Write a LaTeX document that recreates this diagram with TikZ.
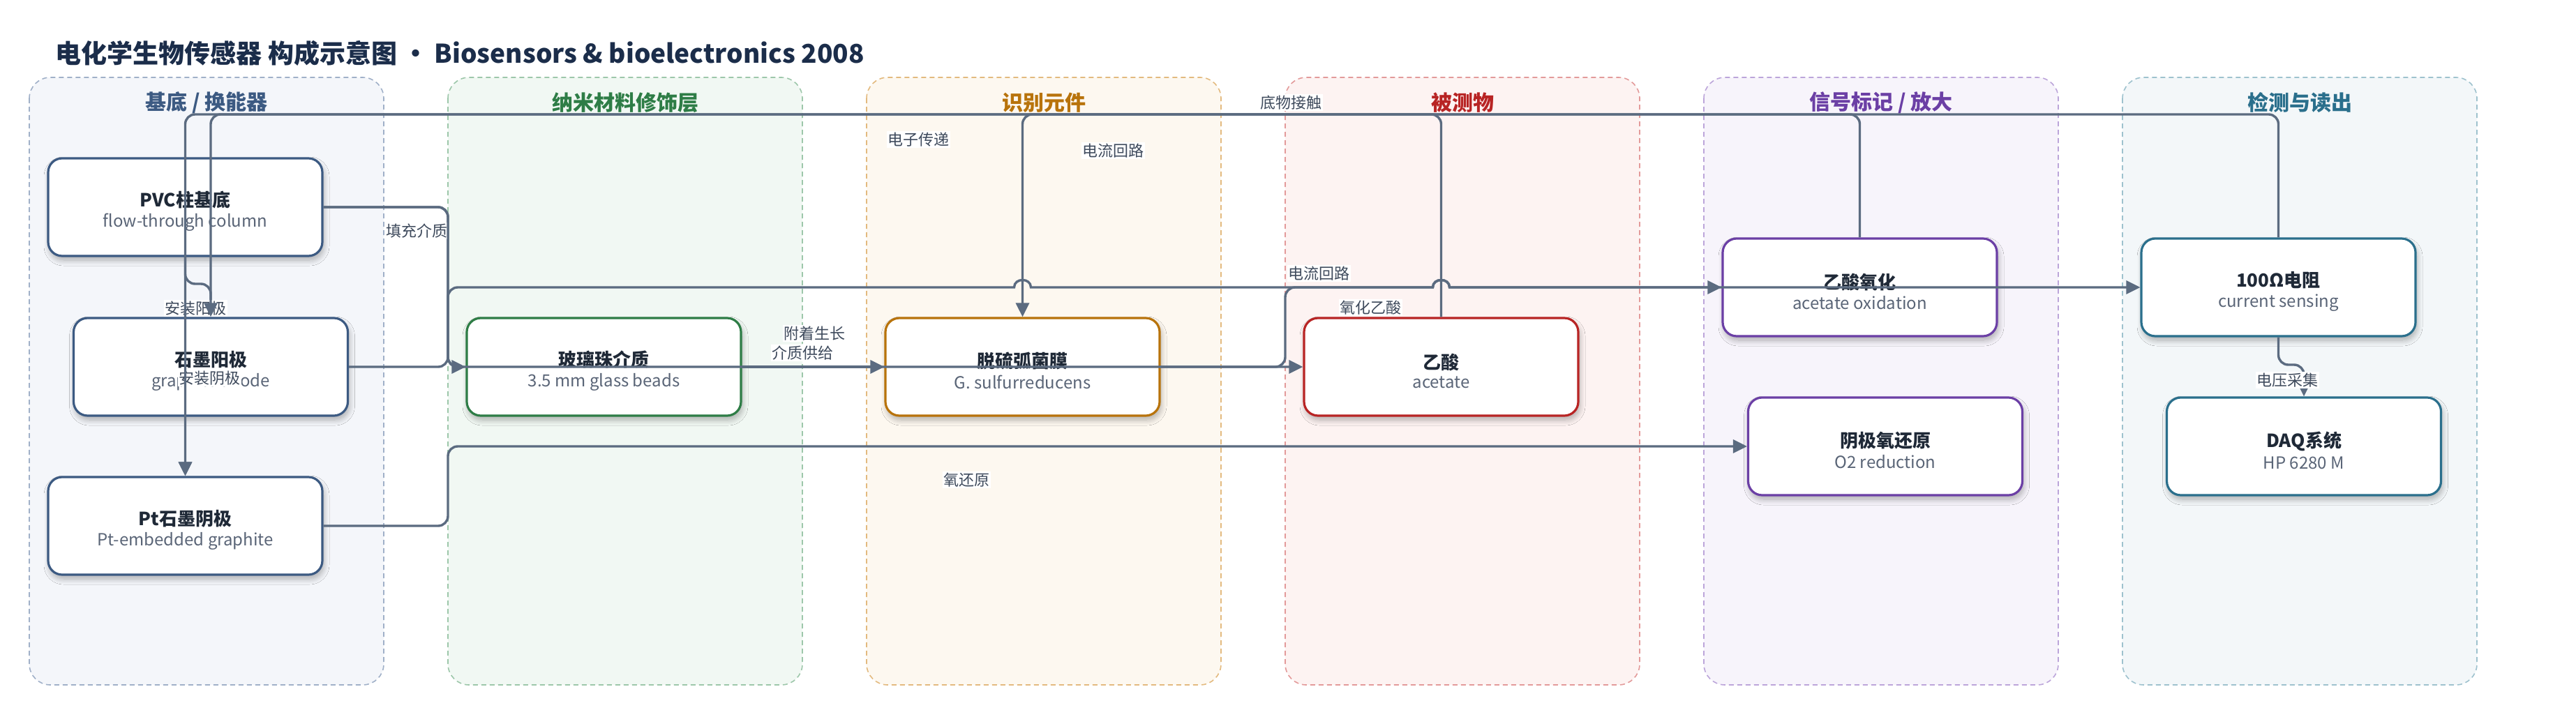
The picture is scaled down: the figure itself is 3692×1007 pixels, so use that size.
\documentclass[tikz,border=0pt]{standalone}
\usepackage{fontspec}
\setmainfont{Noto Sans CJK SC}
\usetikzlibrary{arrows.meta,shadows.blur}
\definecolor{linec}{HTML}{5B6B80}
\definecolor{lblc}{HTML}{3E4A5C}
\definecolor{subc}{HTML}{5A6577}
\definecolor{titc}{HTML}{1B2D4A}
\definecolor{ntxt}{HTML}{1F2937}
% lanes
\definecolor{fA}{HTML}{F4F6FA}\definecolor{bA}{HTML}{A0B0C8}\definecolor{cA}{HTML}{3C5A82}
\definecolor{fB}{HTML}{F1F8F3}\definecolor{bB}{HTML}{9DC7AA}\definecolor{cB}{HTML}{2E7D46}
\definecolor{fC}{HTML}{FDF8F0}\definecolor{bC}{HTML}{E3BA7F}\definecolor{cC}{HTML}{B8730B}
\definecolor{fD}{HTML}{FDF3F2}\definecolor{bD}{HTML}{E39A9A}\definecolor{cD}{HTML}{B82424}
\definecolor{fE}{HTML}{F7F4FB}\definecolor{bE}{HTML}{BCA5DA}\definecolor{cE}{HTML}{6B3FA5}
\definecolor{fF}{HTML}{F3F7F9}\definecolor{bF}{HTML}{9EC2CE}\definecolor{cF}{HTML}{2A6F8C}
\newcommand\ntl[1]{{\fontsize{26pt}{30pt}\selectfont\bfseries\color{ntxt}\rule{0pt}{34pt}#1}}
\newcommand\nsb[1]{{\fontsize{24pt}{30pt}\selectfont\color{subc}#1}}
\begin{document}
\begin{tikzpicture}[x=1pt,y=-1pt,
  lane/.style={dashed,dash pattern=on 7pt off 5pt,line width=1.6pt,rounded corners=30pt},
  lanetitle/.style={font=\fontsize{30pt}{34pt}\selectfont\bfseries},
  box/.style={draw=#1,line width=3.2pt,fill=white,rounded corners=20pt,
    minimum width=393pt,minimum height=140pt,align=center,inner sep=0pt,
    blur shadow={shadow xshift=2pt,shadow yshift=-6pt,shadow blur radius=8pt,shadow blur steps=10,shadow opacity=30}},
  conn/.style={draw=linec,line width=3.4pt,rounded corners=14pt},
  arr/.style={-{Triangle[length=20pt,width=19pt]}},
  lbl/.style={fill=white,inner sep=1.5pt,text=lblc,font=\fontsize{22pt}{24pt}\selectfont}]
\fill[white] (0,0) rectangle (3692,1007);
\useasboundingbox (0,0) rectangle (3692,1007);
% title
\node[anchor=west,text=titc,font=\fontsize{37pt}{44pt}\selectfont\bfseries] (title) at (76,76)
  {电化学生物传感器 构成示意图 · Biosensors \& bioelectronics 2008};
% lanes
\draw[lane,draw=bA,fill=fA] (42,111) rectangle (550,982);
\draw[lane,draw=bB,fill=fB] (642,111) rectangle (1150,982);
\draw[lane,draw=bC,fill=fC] (1242,111) rectangle (1750,982);
\draw[lane,draw=bD,fill=fD] (1842,111) rectangle (2350,982);
\draw[lane,draw=bE,fill=fE] (2442,111) rectangle (2950,982);
\draw[lane,draw=bF,fill=fF] (3042,111) rectangle (3550,982);
\node[lanetitle,text=cA] (tA) at (296,147) {基底 / 换能器};
\node[lanetitle,text=cB] (tB) at (896,147) {纳米材料修饰层};
\node[lanetitle,text=cC] (tC) at (1496,147) {识别元件};
\node[lanetitle,text=cD] (tD) at (2096,147) {被测物};
\node[lanetitle,text=cE] (tE) at (2696,147) {信号标记 / 放大};
\node[lanetitle,text=cF] (tF) at (3296,147) {检测与读出};
% nodes
\node[box=cA] (pvc) at (265.5,297) {\ntl{PVC柱基底}\\[7pt]\nsb{flow-through column}};
\node[box=cA] (anode) at (302,526) {\ntl{石墨阳极}\\[7pt]\nsb{graphite anode}};
\node[box=cA] (cathode) at (265.5,754) {\ntl{Pt石墨阴极}\\[7pt]\nsb{Pt-embedded graphite}};
\node[box=cB] (glass) at (865.5,526) {\ntl{玻璃珠介质}\\[7pt]\nsb{3.5 mm glass beads}};
\node[box=cC] (bio) at (1465.5,526) {\ntl{脱硫弧菌膜}\\[7pt]\nsb{G. sulfurreducens}};
\node[box=cD] (acet) at (2065.5,526) {\ntl{乙酸}\\[7pt]\nsb{acetate}};
\node[box=cE] (oxid) at (2665.5,412) {\ntl{乙酸氧化}\\[7pt]\nsb{acetate oxidation}};
\node[box=cE] (ored) at (2702,640) {\ntl{阴极氧还原}\\[7pt]\nsb{O2 reduction}};
\node[box=cF] (res) at (3265.5,412) {\ntl{100Ω电阻}\\[7pt]\nsb{current sensing}};
\node[box=cF] (daq) at (3302,640) {\ntl{DAQ系统}\\[7pt]\nsb{HP 6280 M}};
% connectors
\draw[conn,arr] (pvc.east) -- (642,297) -- (642,526) -- (glass.west);
\node[lbl] (l1) at (597,331) {填充介质};
\draw[conn,arr] (pvc.south) -- (265.5,407) -- (302,407) -- (anode.north);
\node[lbl] (l2) at (280,442) {安装阳极};
\draw[conn,arr] (pvc.south) -- (cathode.north);
\node[lbl] (l3) at (300,542) {安装阴极};
\draw[conn,arr] (pvc.east) -- (642,297) -- (642,526) -- (acet.west);
\node[lbl] (l4) at (1150,506) {介质供给};
\draw[conn,arr] (glass.east) -- (bio.west);
\node[lbl] (l5) at (1167,478) {附着生长};
\draw[conn,arr] (anode.east) -- (642,526) -- (642,412) [sharp corners] -- (1453.5,412)
  .. controls (1453.5,398) and (1477.5,398) .. (1477.5,412) -- (2053.5,412)
  .. controls (2053.5,398) and (2077.5,398) .. (2077.5,412) -- (res.west);
\node[lbl] (l6) at (1890,392) {电流回路};
\draw[conn,arr] (bio.east) -- (1842,526) -- (1842,412) [sharp corners] -- (2053.5,412)
  .. controls (2053.5,398) and (2077.5,398) .. (2077.5,412) -- (oxid.west);
\node[lbl] (l7) at (1964,441) {氧化乙酸};
\draw[conn,arr] (cathode.east) -- (642,754) -- (642,640) -- (ored.west);
\node[lbl] (l8) at (1385,688) {氧还原};
\draw[conn,arr] (res.south) -- (3265.5,523) -- (3302,523) -- (daq.north);
\node[lbl] (l9) at (3278,545) {电压采集};
\draw[conn,arr] (acet.north) -- (2065.5,164) -- (1465.5,164) -- (bio.north);
\node[lbl] (l10) at (1850,147) {底物接触};
\draw[conn,arr] (oxid.north) -- (2665.5,164) -- (302,164) -- (anode.north);
\node[lbl] (l11) at (1316,200) {电子传递};
\draw[conn,arr] (res.north) -- (3265.5,164) -- (265.5,164) -- (cathode.north);
\node[lbl] (l12) at (1595,216) {电流回路};
\end{tikzpicture}
\end{document}
